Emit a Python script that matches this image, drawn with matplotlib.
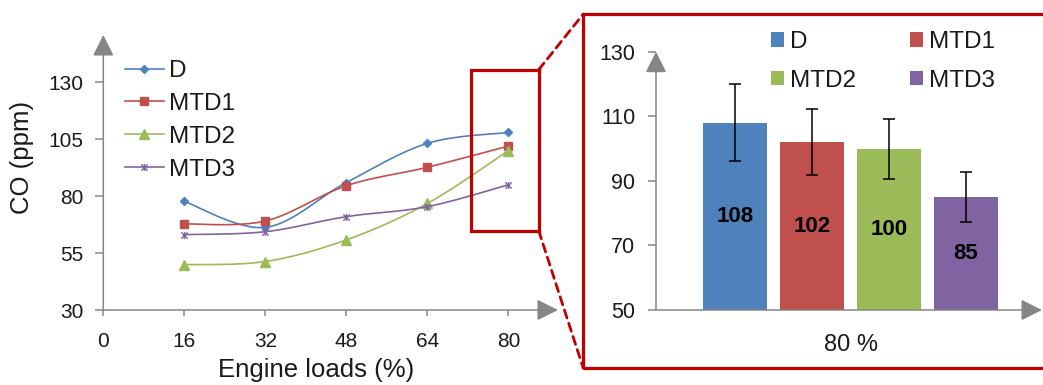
import numpy as np
import matplotlib
matplotlib.use("Agg")
import matplotlib.pyplot as plt
from matplotlib.patches import Rectangle, ConnectionPatch
from matplotlib.path import Path

plt.rcParams['font.family'] = ['Liberation Sans', 'DejaVu Sans']

# CO emissions vs engine load
loads = [16, 32, 48, 64, 80]
co_d = [77.7, 66.3, 86.0, 103.2, 108]
co_mtd1 = [67.8, 69.1, 84.6, 92.7, 102]
co_mtd2 = [49.9, 51.3, 60.8, 76.8, 100]
co_mtd3 = [63.1, 64.4, 71.0, 75.4, 85]

# zoom at 80 % load
fuels = ['D', 'MTD1', 'MTD2', 'MTD3']
co_80 = [108, 102, 100, 85]
co_80_err = [12, 10.3, 9.3, 7.6]

colors = ['#4F81BD', '#C0504D', '#9BBB59', '#8064A2']
axis_gray = '#868686'
text_col = '#1a1a1a'
box_red = '#C00000'

W, H = 1043, 385


def fig_rect(x0, y0, x1, y1):
    # pixel box (top-left origin) -> figure fraction [left, bottom, width, height]
    return [x0 / W, (H - y1) / H, (x1 - x0) / W, (y1 - y0) / H]


def smooth(ax, xs, ys, n=25):
    # cardinal spline through the points, computed in screen space
    pts = ax.transData.transform(np.column_stack([xs, ys]))
    p = np.vstack([pts[0], pts, pts[-1]])
    out = []
    t = np.linspace(0, 1, n)[:, None]
    for i in range(1, len(p) - 2):
        p0, p1, p2, p3 = p[i - 1], p[i], p[i + 1], p[i + 2]
        c1 = p1 + (p2 - p0) / 6
        c2 = p2 - (p3 - p1) / 6
        seg = (1 - t) ** 3 * p1 + 3 * (1 - t) ** 2 * t * c1 + 3 * (1 - t) * t ** 2 * c2 + t ** 3 * p2
        out.append(seg if i == 1 else seg[1:])
    xy = ax.transData.inverted().transform(np.vstack(out))
    return xy[:, 0], xy[:, 1]


def arrow_axis(ax, start, end):
    ax.annotate('', xy=end, xytext=start, xycoords='data', annotation_clip=False,
                arrowprops=dict(arrowstyle='-|>,head_length=1.3,head_width=0.65',
                                mutation_scale=10, color=axis_gray, lw=1.1,
                                shrinkA=0, shrinkB=0))


star = Path([(-1, -1), (1, 1), (-1, 1), (1, -1), (0, -1.1), (0, 1.1)],
            [Path.MOVETO, Path.LINETO, Path.MOVETO, Path.LINETO, Path.MOVETO, Path.LINETO])

fig = plt.figure(figsize=(W / 100, H / 100), dpi=100)

# ---- left: line chart ----
ax1 = fig.add_axes(fig_rect(103.3, 35, 558, 310))
ax1.set_xlim(0, 89.8)
ax1.set_ylim(30, 150.8)
for s in ax1.spines.values():
    s.set_visible(False)

series = [co_d, co_mtd1, co_mtd2, co_mtd3]
markers = ['D', 's', '^', star]
msizes = [4, 5.5, 7.5, 5]
n = 25
for vals, name, c, m, ms in zip(series, fuels, colors, markers, msizes):
    sx, sy = smooth(ax1, loads, vals, n)
    ax1.plot(sx, sy, color=c, lw=1.2, marker=m, ms=ms,
             markevery=[k * (n - 1) for k in range(len(loads))],
             mfc=c if m != star else 'none', mec=c, mew=1.0, label=name)

ax1.set_xticks([0] + loads)
ax1.set_yticks(np.arange(30, 131, 25))
ax1.tick_params(axis='y', direction='out', length=6, width=1.1, color=axis_gray,
                labelsize=15, labelcolor=text_col, pad=8.5)
ax1.tick_params(axis='x', direction='out', length=4, width=1.1, color=axis_gray,
                labelsize=15, labelcolor=text_col, pad=12)
arrow_axis(ax1, (0, 30), (0, 150.8))
arrow_axis(ax1, (0, 30), (89.8, 30))

ax1.text(0.467, -0.218, 'Engine loads (%)', transform=ax1.transAxes, ha='center',
         va='center', fontsize=18.5, color=text_col)
ax1.text(-0.1795, 0.553, 'CO (ppm)', transform=ax1.transAxes, ha='center',
         va='center', rotation=90, fontsize=18.5, color=text_col)

leg1 = ax1.legend(loc='upper left', bbox_to_anchor=(125 / W, 1 - 60 / H),
                  bbox_transform=fig.transFigure, frameon=False, fontsize=17.5,
                  handlelength=1.6, handletextpad=0.2, labelspacing=0.45,
                  borderpad=0, borderaxespad=0, numpoints=1)
for t in leg1.get_texts():
    t.set_color(text_col)

# highlight box around the 80 % load
ax1.add_patch(Rectangle((72.6, 64.8), 86 - 72.6, 135.6 - 64.8, fill=False,
                        ec=box_red, lw=2.3, clip_on=False, zorder=5))

# ---- right: bar chart at 80 % ----
ax2 = fig.add_axes(fig_rect(656, 51.7, 1042, 310))
xpos = np.arange(1, len(fuels) + 1)
ax2.set_xlim(1 - 79 / 77, 1 - 79 / 77 + 386 / 77)
ax2.set_ylim(50, 130)
for s in ax2.spines.values():
    s.set_visible(False)

bars = []
for x, v, e, c, name in zip(xpos, co_80, co_80_err, colors, fuels):
    b = ax2.bar(x, v - 50, bottom=50, width=0.83, color=c, label=name, zorder=2,
                yerr=e, capsize=4, error_kw=dict(ecolor='black', elinewidth=1.1, capthick=1.1))
    bars.append(b)
    ax2.text(x, (50 + v) / 2, str(v), ha='center', va='center', fontsize=16,
             fontweight='bold', color='black', zorder=3)

ax2.set_yticks(np.arange(50, 131, 20))
ax2.tick_params(axis='y', direction='out', length=6, width=1.1, color=axis_gray,
                labelsize=15.5, labelcolor=text_col, pad=9)
ax2.set_xticks([xpos.mean()])
ax2.set_xticklabels(['80 %'])
ax2.tick_params(axis='x', length=0, labelsize=17, labelcolor=text_col, pad=17)
arrow_axis(ax2, (ax2.get_xlim()[0], 50), (ax2.get_xlim()[0], 130))
arrow_axis(ax2, (ax2.get_xlim()[0], 50), (ax2.get_xlim()[1], 50))

# legend laid out row-wise: D, MTD1 / MTD2, MTD3
order = [0, 2, 1, 3]
leg2 = ax2.legend([bars[i] for i in order], [fuels[i] for i in order],
                  loc='upper left', bbox_to_anchor=(771 / W, 1 - 31 / H),
                  bbox_transform=fig.transFigure, ncol=2, frameon=False,
                  fontsize=17.5, handlelength=0.55, handleheight=0.55,
                  handletextpad=0.25, columnspacing=2.2, labelspacing=0.68,
                  borderpad=0, borderaxespad=0)
for t in leg2.get_texts():
    t.set_color(text_col)

# frame of the zoomed panel and dashed connectors
fig.add_artist(Rectangle((583.3 / W, (H - 368.3) / H), (1060 - 583.3) / W, (368.3 - 14) / H,
                         transform=fig.transFigure, fill=False, ec=box_red, lw=2.3))
for ya, yb in [(135.6, 14), (64.8, 368.3)]:
    fig.add_artist(ConnectionPatch(xyA=(86, ya), coordsA=ax1.transData,
                                   xyB=(583.3 / W, 1 - yb / H), coordsB=fig.transFigure,
                                   color=box_red, lw=2.0, linestyle=(0, (3, 2))))

fig.savefig('out.png', dpi=100)
